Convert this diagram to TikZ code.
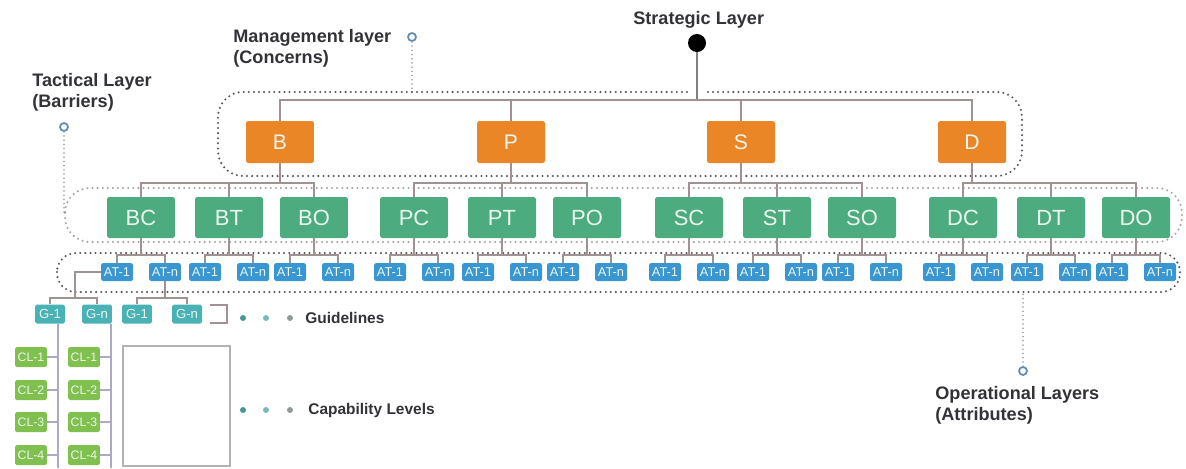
\documentclass[tikz,border=0pt]{standalone}
\usepackage{fontspec}
\setmainfont{Liberation Sans}
\definecolor{mgmtorange}{RGB}{234,134,38}
\definecolor{tactgreen}{RGB}{76,172,128}
\definecolor{opblue}{RGB}{58,150,208}
\definecolor{guideteal}{RGB}{72,178,180}
\definecolor{capgreen}{RGB}{128,192,78}
\definecolor{linkgray}{RGB}{160,146,146}
\definecolor{clgray}{RGB}{172,168,198}
\definecolor{layerdots}{RGB}{85,85,92}
\definecolor{tactdots}{RGB}{168,160,160}
\definecolor{markerblue}{RGB}{95,140,180}
\definecolor{labelgray}{RGB}{50,50,55}
\definecolor{dotteal}{RGB}{70,150,150}
\definecolor{dotlight}{RGB}{120,188,184}
\definecolor{dotgray}{RGB}{145,155,155}
\definecolor{boxtext}{RGB}{236,246,240}

\begin{document}
\begin{tikzpicture}[x=0.02cm, y=-0.02cm,
		box/.style={rectangle, rounded corners=1pt, text=boxtext, inner sep=0pt},
		mgmt/.style={box, fill=mgmtorange, minimum width=1.36cm, minimum height=0.84cm, font=\fontsize{12}{12}\selectfont},
		tact/.style={box, fill=tactgreen, minimum width=1.36cm, minimum height=0.82cm, font=\fontsize{12.5}{12}\selectfont},
		attr/.style={box, fill=opblue, minimum width=0.64cm, minimum height=0.36cm, font=\fontsize{7.3}{7}\selectfont},
		guide/.style={box, fill=guideteal, minimum width=0.6cm, minimum height=0.38cm, font=\fontsize{7.5}{7}\selectfont},
		capbox/.style={box, fill=capgreen, minimum width=0.64cm, minimum height=0.4cm, font=\fontsize{7}{7}\selectfont},
		link/.style={draw=linkgray, line width=1pt},
		clline/.style={draw=clgray, line width=1pt},
		layer/.style={draw=layerdots, line width=1.3pt, line cap=round, dash pattern=on 0pt off 2.9pt},
		markline/.style={draw=gray!80, line width=1pt, line cap=round, dash pattern=on 0pt off 2.4pt},
		marker/.style={circle, draw=markerblue, line width=1pt, minimum size=0.16cm, inner sep=0pt},
		lbl/.style={text=labelgray, font=\fontsize{10.3}{12}\bfseries\selectfont, align=left, anchor=west, inner sep=0pt}
	]
	\useasboundingbox (0,0) rectangle (1186,468);

	% Layer frames
	\draw[layer, rounded corners=0.5cm] (687,92) -- (218,92) -- (218,176) -- (1022,176) -- (1022,92) -- (707,92);
	\draw[layer, draw=tactdots, rounded corners=0.5cm] (65,188) rectangle (1182,242);
	\draw[layer, rounded corners=0.38cm] (57,253) rectangle (1180,292);

	% Labels and markers
	\node[lbl] (strat-lbl) at (633,20) {Strategic Layer};
	\node[lbl] (mgmt-lbl) at (233,48) {Management layer\\(Concerns)};
	\node[lbl] (tact-lbl) at (32,92) {Tactical Layer\\(Barriers)};
	\node[lbl] (op-lbl) at (935,405) {Operational Layers\\(Attributes)};

	\node[marker] (mgmt-mark) at (412,37) {};
	\node[marker] (tact-mark) at (64,127) {};
	\node[marker] (op-mark) at (1023,371) {};
	\coordinate (mgmt-top) at (412,92);
	\coordinate (tact-top) at (64,212);
	\coordinate (op-top) at (1023,292);
	\draw[markline] (mgmt-mark) -- (mgmt-top);
	\draw[markline] (tact-mark) -- (tact-top);
	\draw[markline] (op-mark) -- (op-top);

	% Strategic layer
	\node[circle, fill=black, minimum size=0.36cm, inner sep=0pt] (strat) at (697,43) {};
	\coordinate (strat-bus) at (697,100);

	% Tactical and operational layers
	\foreach \t/\x in {BC/141,BT/229,BO/314,PC/414,PT/502,PO/587,SC/689,ST/777,SO/862,DC/963,DT/1051,DO/1136} {
		\node[tact] (\t) at (\x,217.5) {\t};
		\node[attr] (\t-1) at (\x-24,272) {AT-1};
		\node[attr] (\t-n) at (\x+24,272) {AT-n};
		\draw[link] (\t.south) -- ++(0,17) coordinate (\t-bus) -| (\t-1.north);
		\draw[link] (\t-bus) -| (\t-n.north);
	}

	% Management layer
	\foreach \m/\x in {B/280,P/511,S/741,D/972} {
		\node[mgmt] (\m) at (\x,142) {\m};
		\draw[link] (\m.south) -- ++(0,20) coordinate (\m-bus) -| (\m C.north);
		\draw[link] (\m-bus) -| (\m T.north);
		\draw[link] (\m-bus) -| (\m O.north);
	}
	\draw[link, draw=gray] (strat) -- (strat-bus);
	\draw[link] (B.north) -- ++(0,-21) -| (D.north);
	\draw[link] (P.north) -- ++(0,-21);
	\draw[link] (S.north) -- ++(0,-21);

	% Guidelines
	\node[guide] (Ga-1) at (50,314) {G-1};
	\node[guide] (Ga-n) at (97,314) {G-n};
	\node[guide] (Gb-1) at (137,314) {G-1};
	\node[guide] (Gb-n) at (187,314) {G-n};
	\coordinate (ga-split) at (75,298);
	\draw[link] (BC-1.west) -| (ga-split);
	\draw[link] (Ga-1.north) |- (ga-split) -| (Ga-n.north);
	\draw[link] (BC-n.south) -- ++(0,17) coordinate (gb-split);
	\draw[link] (Gb-1.north) |- (gb-split) -| (Gb-n.north);
	\draw[link] (210,305) -| (227,323) -- (210,323);

	% Capability levels
	\coordinate (cla) at (58,468);
	\coordinate (clb) at (111,468);
	\draw[clline] (Ga-1.south -| cla) -- (cla);
	\draw[clline] (Ga-n.south -| clb) -- (clb);
	\foreach \i/\y in {1/357,2/390,3/422,4/455} {
		\node[capbox] (CLa-\i) at (31,\y) {CL-\i};
		\node[capbox] (CLb-\i) at (84,\y) {CL-\i};
		\draw[clline] (CLa-\i) -- (CLa-\i -| cla);
		\draw[clline] (CLb-\i) -- (CLb-\i -| clb);
	}
	\draw[draw=gray!60, line width=1.2pt] (123,346) rectangle (230,466);

	% Legend dots
	\foreach \y in {318,410} {
		\fill[dotteal] (243,\y) circle (1.7pt);
		\fill[dotlight] (266,\y) circle (1.7pt);
		\fill[dotgray] (290,\y) circle (1.7pt);
	}
	\node[lbl, font=\fontsize{8.8}{10}\bfseries\selectfont] (guide-lbl) at (305,318) {Guidelines};
	\node[lbl, font=\fontsize{8.8}{10}\bfseries\selectfont] (cap-lbl) at (308,410) {Capability Levels};
\end{tikzpicture}
\end{document}
